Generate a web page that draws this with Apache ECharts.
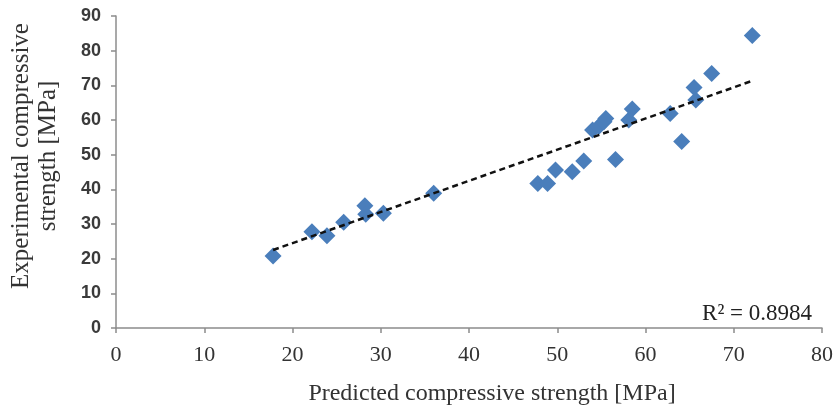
<!DOCTYPE html>
<html>
<head>
<meta charset="utf-8">
<script src="https://cdn.jsdelivr.net/npm/echarts@6/dist/echarts.min.js"></script>
<style>
  html, body { margin: 0; padding: 0; background: #fff; }
  #chart { width: 836px; height: 411px; }
</style>
</head>
<body>
<div id="chart"></div>
<script>
// --- data ---
const predicted = [17.8, 22.2, 23.9, 25.8, 28.2, 28.3, 30.3, 36.0,
  47.8, 48.9, 49.8, 51.7, 53.0, 56.6, 54.0, 54.7, 55.3, 55.5, 58.1, 58.5,
  62.8, 64.1, 65.5, 65.7, 67.5, 72.1];
const experimental = [20.8, 27.8, 26.6, 30.5, 35.3, 32.8, 33.1, 38.9,
  41.7, 41.7, 45.6, 45.1, 48.2, 48.6, 57.1, 58.1, 59.5, 60.4, 60.0, 63.2,
  61.9, 53.8, 69.4, 65.8, 73.4, 84.4];
// 趋势线端点
const trendX = [17.8, 72.1];
const trendY = [22.5, 71.3];
const xTicks = [0, 10, 20, 30, 40, 50, 60, 70, 80];
const yTicks = [0, 10, 20, 30, 40, 50, 60, 70, 80, 90];
const r2Label = 'R² = 0.8984';

const points = predicted.map((x, i) => [x, experimental[i]]);
const trend = trendX.map((x, i) => [x, trendY[i]]);

const chart = echarts.init(document.getElementById('chart'));

const axisColor = '#8c8c8c';
const serif = '"Liberation Serif", "DejaVu Serif", serif';

chart.setOption({
  animation: false,
  backgroundColor: '#fff',
  grid: { left: 114, right: 14, top: 16, bottom: 83 },
  xAxis: {
    type: 'value',
    min: xTicks[0],
    max: xTicks[xTicks.length - 1],
    interval: 10,
    name: 'Predicted compressive strength [MPa]',
    nameLocation: 'middle',
    nameGap: 54,
    nameTextStyle: { fontFamily: serif, fontSize: 24, color: '#333', padding: [0, 0, 0, 46] },
    axisLine: { lineStyle: { color: axisColor, width: 1.5 } },
    axisTick: { show: true, length: 5, lineStyle: { color: axisColor, width: 1.5 } },
    axisLabel: { fontFamily: serif, fontSize: 22, color: '#333', margin: 16 },
    splitLine: { show: false }
  },
  yAxis: {
    type: 'value',
    min: yTicks[0],
    max: yTicks[yTicks.length - 1],
    interval: 10,
    name: 'Experimental compressive\nstrength [MPa]',
    nameLocation: 'middle',
    nameRotate: 90,
    nameGap: 54,
    nameTextStyle: { fontFamily: serif, fontSize: 25, color: '#333', lineHeight: 27, padding: [0, 0, 0, 32] },
    axisLine: { show: true, lineStyle: { color: axisColor, width: 1.5 } },
    axisTick: { show: true, length: 5, lineStyle: { color: axisColor, width: 1.5 } },
    axisLabel: { fontFamily: '"Liberation Sans", Arial, sans-serif', fontSize: 18, fontWeight: 'bold', color: '#3a3a3a', margin: 15 },
    splitLine: { show: false }
  },
  graphic: [{
    type: 'text',
    right: 24,
    top: 302,
    style: { text: r2Label, font: '23px "Liberation Serif", serif', fill: '#222' }
  }],
  series: [
    {
      type: 'scatter',
      symbol: 'diamond',
      symbolSize: [17, 17],
      itemStyle: { color: '#4a7ebb', opacity: 1 },
      data: points,
      z: 2
    },
    {
      type: 'line',
      data: trend,
      showSymbol: false,
      symbol: 'none',
      lineStyle: { color: '#111', width: 2.5, type: [6, 4] },
      z: 3
    }
  ]
});
</script>
</body>
</html>
